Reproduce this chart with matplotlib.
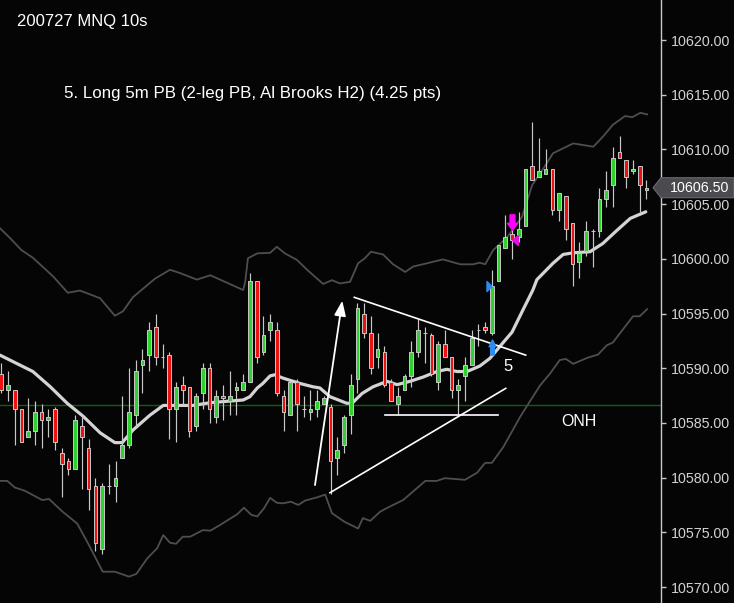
import matplotlib
matplotlib.use("Agg")
import matplotlib.pyplot as plt
from matplotlib.path import Path
from matplotlib.patches import Polygon
from matplotlib.transforms import IdentityTransform

plt.rcParams['font.family'] = ['Liberation Sans', 'DejaVu Sans']

# 10s bars (MNQ)
opens = [10589.5, 10588, 10588, 10586.25, 10583.75, 10584.25, 10586, 10585.25, 10586.25, 10582.25,
         10581.5, 10580.75, 10584.75, 10582.75, 10579.25, 10573.5, 10579.25, 10579.25, 10581.75, 10583,
         10585.75, 10590.25, 10591.25, 10593.75, 10591, 10591.25, 10586.25, 10588.5, 10588.25, 10584.75,
         10587.75, 10590, 10585.5, 10587.5, 10587, 10588, 10588, 10588.75, 10598, 10591.5,
         10593.5, 10593.5, 10587.5, 10585.75, 10588.75, 10586.25, 10586, 10586.25, 10586.75, 10586.5,
         10581.75, 10583, 10585.75, 10589, 10595, 10593.25, 10591, 10591.5, 10588.75, 10586.75,
         10588, 10589.25, 10591.5, 10593.25, 10593, 10588.75, 10592.25, 10591, 10588, 10589.25,
         10590.25, 10593.5, 10593.75, 10593.25, 10598, 10601, 10602.25, 10602, 10603, 10608.5,
         10607.5, 10607.75, 10608.25, 10604.5, 10605.75, 10603.25, 10599.75, 10600.75, 10602.5, 10602.5,
         10605.5, 10606.75, 10609.75, 10609, 10608, 10608.5, 10606.25]
highs = [10590.5, 10589.75, 10588, 10586.25, 10587.25, 10587, 10586.75, 10586.25, 10586.5, 10582.75,
         10581.75, 10585.75, 10585.5, 10583.5, 10580, 10579.5, 10581.25, 10581.5, 10587.5, 10590,
         10590.75, 10591.75, 10594.25, 10595, 10592.25, 10591.5, 10588.75, 10589.25, 10588.25, 10587.75,
         10590.5, 10590.5, 10588, 10588.5, 10589.75, 10588.75, 10589.5, 10598.75, 10598, 10594.75,
         10595, 10594.25, 10588, 10588.75, 10589, 10587.5, 10588, 10588, 10587.5, 10586.75,
         10583.75, 10585.75, 10589.5, 10596, 10596, 10594.75, 10593.25, 10592, 10589, 10588.25,
         10589.5, 10592.5, 10594.5, 10593.75, 10593.25, 10592.5, 10593.5, 10591, 10589, 10591,
         10593.5, 10594, 10594.25, 10599, 10601.25, 10604, 10603, 10604.25, 10608.25, 10612.5,
         10611, 10610, 10608.25, 10606, 10605.75, 10603.25, 10601.5, 10603.5, 10602.75, 10606.5,
         10608, 10610.25, 10611.25, 10609, 10609, 10608.5, 10607.25]
lows = [10587.75, 10587, 10583, 10583.25, 10583.75, 10583, 10582.75, 10583.75, 10582.5, 10578.25,
        10580.25, 10580.75, 10579, 10577, 10573.25, 10573, 10578.5, 10577.75, 10581.75, 10582.75,
        10584.75, 10587.75, 10589.75, 10590.25, 10590, 10583.5, 10583.25, 10586.75, 10583.75, 10584.25,
        10586.25, 10585, 10585, 10585.25, 10585.75, 10585.75, 10588, 10588.75, 10590.5, 10591.25,
        10592.5, 10587.5, 10584.25, 10585.75, 10584.25, 10585.5, 10585.25, 10585.5, 10586.75, 10578.5,
        10580.25, 10582.25, 10584, 10587.75, 10592.75, 10589.5, 10590, 10588.25, 10587, 10585.75,
        10588, 10588.25, 10591, 10590.5, 10589.25, 10588, 10591, 10587.25, 10585.75, 10587,
        10590.25, 10592, 10593.25, 10593, 10598, 10601, 10600, 10601.5, 10603, 10607.25,
        10607.5, 10607.75, 10604, 10603.5, 10601.75, 10597.5, 10598.25, 10600.25, 10599.25, 10602,
        10604.75, 10604.75, 10609.25, 10606.5, 10607.75, 10604.25, 10605.5]
closes = [10588, 10588.5, 10586.25, 10583.25, 10584.25, 10586, 10585.25, 10585.5, 10583.25, 10581.25,
          10580.75, 10585.25, 10583.75, 10579, 10574, 10579.25, 10579.25, 10580, 10583, 10586,
          10589.75, 10590.75, 10593.5, 10591, 10591, 10586.25, 10588.25, 10588, 10584.25, 10587.5,
          10590, 10586.25, 10587.5, 10587.25, 10587.5, 10588.25, 10588.75, 10598, 10591, 10593,
          10594.25, 10587.75, 10586, 10588.75, 10586.75, 10586.25, 10586.25, 10587, 10587.25, 10581.5,
          10582.5, 10585.5, 10588.5, 10595.5, 10593.25, 10590, 10591.75, 10588.5, 10587, 10587.5,
          10589.25, 10591.5, 10593.5, 10593.25, 10589.5, 10592.25, 10591, 10588, 10588.5, 10590.25,
          10592.75, 10593.5, 10593.5, 10597.5, 10601.25, 10602, 10601.75, 10602.75, 10608.25, 10607.25,
          10608, 10608.25, 10604.5, 10606, 10602.75, 10599.5, 10600.5, 10602.5, 10602.5, 10605.5,
          10606.25, 10609.25, 10609.25, 10607.5, 10608.25, 10606.75, 10606.5]

# moving average and channel lines (bar position, price)
mid_x = [-0.2, 4.7, 7.3, 9.8, 12.2, 14.7, 16.9, 18.0, 19.6, 22.1, 24.1, 28.5, 31.1, 36.0, 37.0, 38.1, 38.9,
         40.0, 40.7, 41.9, 44.5, 46.4, 47.4, 48.9, 51.4, 52.2, 53.7, 55.3, 57.4, 58.9, 60.8, 62.8, 64.8,
         66.3, 67.8, 69.3, 71.2, 72.7, 74.2, 76.0, 77.6, 79.1, 79.7, 82.1, 83.6, 85.1, 87.6, 89.5, 91.6,
         93.6, 95.9]
mid_y = [10591.2, 10589.7, 10588.3, 10586.8, 10585.6, 10584.1, 10583.2, 10583.2, 10584.35, 10585.7, 10586.6,
         10586.6, 10586.85, 10587.1, 10587.4, 10588.2, 10588.6, 10589.3, 10589.4, 10589.1, 10588.6, 10588.3,
         10588.2, 10587.4, 10586.8, 10586.8, 10587.7, 10588.3, 10588.8, 10588.5, 10588.8, 10589.2, 10589.7,
         10589.9, 10589.7, 10589.7, 10590.2, 10590.9, 10592.0, 10593.3, 10595.3, 10597.15, 10598.1, 10599.6,
         10600.4, 10600.55, 10600.65, 10601.4, 10602.6, 10603.7, 10604.3]
upper_x = [-0.2, 1.3, 3.0, 4.7, 7.7, 9.9, 11.7, 14.7, 16.9, 18.1, 19.6, 22.9, 25.1, 26.6, 29.1, 31.1, 34.0,
           36.0, 36.3, 36.7, 38.1, 40.0, 41.0, 42.2, 44.0, 45.5, 47.9, 49.2, 50.4, 51.9, 53.1, 54.1, 55.0,
           56.8, 58.3, 60.1, 61.3, 63.4, 65.7, 68.3, 70.2, 71.2, 72.0, 73.2, 75.3, 77.5, 79.0, 80.5, 82.1,
           85.1, 88.1, 89.5, 91.0, 92.8, 93.9, 95.1, 96.1]
upper_y = [10602.8, 10601.9, 10600.8, 10600.1, 10598.4, 10596.9, 10597.1, 10596.4, 10594.8, 10595.2, 10596.5,
           10598.2, 10599.0, 10598.7, 10598.1, 10598.5, 10597.7, 10597.15, 10597.9, 10600.05, 10600.5,
           10600.55, 10601.1, 10600.5, 10599.9, 10599.0, 10597.7, 10598.05, 10597.75, 10597.9, 10599.6,
           10600.05, 10600.65, 10600.4, 10599.5, 10598.8, 10599.3, 10599.6, 10599.95, 10599.5, 10599.5,
           10599.65, 10599.5, 10600.8, 10602.0, 10603.85, 10606.75, 10608.1, 10609.65, 10610.55, 10610.25,
           10611.15, 10612.25, 10613.05, 10612.95, 10613.35, 10613.2]
lower_x = [-0.2, 0.9, 2.0, 3.5, 6.1, 7.1, 9.0, 11.3, 12.9, 15.1, 16.9, 19.0, 20.1, 21.7, 23.2, 24.1, 25.1,
           26.0, 27.0, 28.1, 30.0, 31.1, 32.5, 35.1, 36.1, 37.2, 38.1, 39.1, 40.0, 41.0, 41.9, 43.1, 44.2,
           45.2, 47.0, 48.2, 49.2, 51.1, 53.1, 53.8, 54.9, 56.4, 57.8, 59.8, 63.1, 64.8, 66.0, 69.0, 70.8,
           72.0, 73.0, 74.7, 77.2, 79.1, 80.2, 81.7, 83.1, 84.0, 85.1, 87.2, 88.8, 90.1, 91.0, 92.5, 94.0,
           95.0, 96.1]
lower_y = [10579.7, 10579.7, 10579.1, 10578.8, 10577.95, 10578.05, 10576.95, 10575.8, 10574.0, 10571.4,
           10571.4, 10570.95, 10571.2, 10572.6, 10573.55, 10574.75, 10574.05, 10573.95, 10574.6, 10574.6,
           10575.2, 10575.15, 10575.65, 10576.65, 10577.25, 10576.6, 10576.45, 10577.2, 10578.15, 10577.7,
           10577.65, 10577.8, 10577.5, 10577.9, 10578.2, 10578.45, 10576.75, 10575.95, 10575.35, 10576.3,
           10576.05, 10576.9, 10577.35, 10577.95, 10579.7, 10579.7, 10579.95, 10579.8, 10580.45, 10581.35,
           10581.35, 10582.8, 10585.55, 10587.4, 10588.45, 10589.55, 10590.75, 10590.85, 10590.4, 10590.95,
           10591.25, 10592.1, 10592.35, 10593.55, 10594.75, 10594.75, 10595.4]

onh_price = 10586.6
entry_price = 10597.5
exit_price = 10601.75
yticks = [10570, 10575, 10580, 10585, 10590, 10595, 10600, 10605, 10610, 10615, 10620]

title = "200727 MNQ 10s"
note = "5. Long 5m PB (2-leg PB, Al Brooks H2) (4.25 pts)"

BG = '#050505'
GREEN = '#2ed12e'
RED = '#ee1111'
WICK = '#c8c8c8'


def arrow_marker(head_half, shaft_half, head_len, up=True):
    s = 1 if up else -1
    verts = [(0, 0.5 * s), (head_half, (0.5 - head_len) * s), (shaft_half, (0.5 - head_len) * s),
             (shaft_half, -0.5 * s), (-shaft_half, -0.5 * s), (-shaft_half, (0.5 - head_len) * s),
             (-head_half, (0.5 - head_len) * s), (0, 0.5 * s)]
    return Path(verts, closed=True)


def tri_marker(half_w, right=True):
    s = 1 if right else -1
    return Path([(half_w * s, 0), (-half_w * s, 0.5), (-half_w * s, -0.5), (half_w * s, 0)], closed=True)


fig = plt.figure(figsize=(7.34, 6.03), dpi=100, facecolor=BG)
ax = fig.add_axes([0, 0, 660.7 / 734, 1], facecolor=BG)
ax.set_xlim(-0.19, 98.12)
ax.set_ylim(10568.54, 10623.66)

# ONH level
ax.axhline(onh_price, color='#145c14', lw=1, zorder=1)

# channel + average
ax.plot(upper_x, upper_y, color='#4e4e4e', lw=1.3, zorder=2)
ax.plot(lower_x, lower_y, color='#4e4e4e', lw=1.3, zorder=2)
ax.plot(mid_x, mid_y, color='#d4d4d4', lw=2.3, zorder=2, solid_capstyle='round')

# candles
xs = list(range(len(opens)))
ax.vlines(xs, lows, highs, color=WICK, lw=0.85, zorder=3)
bottoms, heights, fills = [], [], []
for o, c in zip(opens, closes):
    bottoms.append(min(o, c))
    heights.append(abs(c - o))
    fills.append(GREEN if c > o else (RED if c < o else WICK))
ax.bar(xs, heights, bottom=bottoms, width=0.55, color=fills, edgecolor=WICK, linewidth=0.7, zorder=4)

# drawings
ax.annotate('', xy=(50.74, 10596.17), xytext=(46.68, 10579.32),
            arrowprops=dict(arrowstyle='-|>,head_length=0.9,head_width=0.35', color='white', lw=1.3,
                            shrinkA=0, shrinkB=0), zorder=6)
ax.plot([52.53, 78.03], [10596.48, 10591.2], color='white', lw=1.2, zorder=5)
ax.plot([48.91, 75.06], [10578.62, 10588.16], color='white', lw=1.2, zorder=5)
ax.plot([57.1, 73.87], [10585.75, 10585.75], color='white', lw=1.2, zorder=5)
ax.text(75.4, 10590.2, '5', color='white', fontsize=12, ha='center', va='center', zorder=6)
ax.text(85.92, 10585.17, 'ONH', color='white', fontsize=11.5, ha='center', va='center', zorder=6)

# trade markers
ax.plot([72.6], [entry_price], marker=tri_marker(0.25, True), ms=7.2, color='#2d8cf0', ls='none', zorder=7)
ax.plot([73.0], [10591.9], marker=arrow_marker(0.23, 0.12, 0.45, True), ms=10.8, color='#2d8cf0',
        ls='none', zorder=7)
ax.plot([75.95], [10603.4], marker=arrow_marker(0.33, 0.16, 0.45, False), ms=11, color='#ff00ff',
        ls='none', zorder=7)
ax.plot([76.4], [exit_price], marker=tri_marker(0.28, False), ms=7.2, color='#e010e0', ls='none', zorder=7)

# right price axis
for s in ['left', 'top', 'bottom']:
    ax.spines[s].set_visible(False)
ax.spines['right'].set_color('#c8c8c8')
ax.spines['right'].set_linewidth(1)
ax.yaxis.tick_right()
ax.set_yticks(yticks)
ax.set_yticklabels([f"{v:.2f}" for v in yticks])
ax.tick_params(axis='y', colors='#c8c8c8', labelcolor='#d2d2d2', length=3.5, width=1, pad=3.5,
               labelsize=10.3, direction='out')
ax.tick_params(axis='x', bottom=False, labelbottom=False)

# last price tag
_, py = ax.transData.transform((0, closes[-1]))
tag = Polygon([(653, py), (661, py + 10), (734, py + 10), (734, py - 10), (661, py - 10)],
              closed=True, transform=IdentityTransform(), facecolor='#4a4a4f', edgecolor='#6a6a6e',
              lw=0.8, zorder=10)
fig.add_artist(tag)
fig.text(670 / 734, py / 603, f"{closes[-1]:.2f}", color='white', fontsize=10.3, ha='left', va='center',
         zorder=11)

fig.text(17 / 734, 1 - 21.5 / 603, title, color='white', fontsize=12, ha='left', va='center')
fig.text(64 / 734, 1 - 93.5 / 603, note, color='white', fontsize=12.2, ha='left', va='center')

fig.savefig('out.png', dpi=100, facecolor=BG)
